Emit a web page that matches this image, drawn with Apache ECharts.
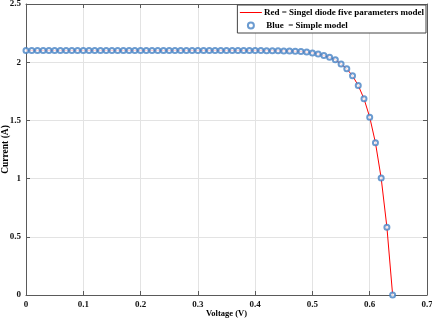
<!DOCTYPE html>
<html>
<head>
<meta charset="utf-8">
<script src="https://cdn.jsdelivr.net/npm/echarts@6/dist/echarts.min.js"></script>
<style>
  html, body { margin: 0; padding: 0; background: #fff; }
  #chart { width: 432px; height: 321px; }
</style>
</head>
<body>
<div id="chart"></div>
<script>
// voltage samples (V)
var voltage = [0, 0.01, 0.02, 0.03, 0.04, 0.05, 0.06, 0.07, 0.08, 0.09,
    0.10, 0.11, 0.12, 0.13, 0.14, 0.15, 0.16, 0.17, 0.18, 0.19,
    0.20, 0.21, 0.22, 0.23, 0.24, 0.25, 0.26, 0.27, 0.28, 0.29,
    0.30, 0.31, 0.32, 0.33, 0.34, 0.35, 0.36, 0.37, 0.38, 0.39,
    0.40, 0.41, 0.42, 0.43, 0.44, 0.45, 0.46, 0.47, 0.48, 0.49,
    0.50, 0.51, 0.52, 0.53, 0.54, 0.55, 0.56, 0.57, 0.58, 0.59,
    0.60, 0.61, 0.62, 0.63, 0.64]
// current, single diode five parameters model (A)
var currentFive = [2.1, 2.1, 2.1, 2.1, 2.1, 2.1, 2.1, 2.1, 2.1, 2.1,
    2.1, 2.1, 2.1, 2.1, 2.1, 2.1, 2.1, 2.1, 2.1, 2.1,
    2.1, 2.1, 2.1, 2.1, 2.1, 2.1, 2.1, 2.1, 2.1, 2.1,
    2.1, 2.1, 2.1, 2.1, 2.1, 2.1, 2.1, 2.1, 2.1, 2.1,
    2.1, 2.1, 2.099, 2.099, 2.098, 2.097, 2.096, 2.094, 2.091, 2.087,
    2.08, 2.071, 2.057, 2.042, 2.02, 1.985, 1.943, 1.883, 1.80, 1.686,
    1.528, 1.308, 1.005, 0.583, 0]
// current, simple model (A)
var currentSimple = currentFive.slice()

var legendNames = ['Red = Singel diode five parameters model', ' Blue  = Simple model']

var myChart = echarts.init(document.getElementById('chart'))
var font = 'Liberation Serif'
var axisColor = '#5a5a5a'
var blue = '#4682c4'

var redData = voltage.map(function (v, i) { return [v, currentFive[i]] })
var blueData = voltage.map(function (v, i) { return [v, currentSimple[i]] })

var tickStyle = { show: true, inside: true, length: 4, lineStyle: { color: axisColor } }
var labelStyle = { fontFamily: font, fontWeight: 'bold', fontSize: 9, color: '#111', margin: 5 }

var option = {
    animation: false,
    grid: { left: 26, right: 5, top: 4, bottom: 26, outerBoundsMode: 'none' },
    legend: {
        data: [
            { name: legendNames[0], itemStyle: { opacity: 0 }, lineStyle: { width: 1 } },
            { name: legendNames[1], itemStyle: { borderWidth: 1 } }
        ],
        orient: 'vertical',
        right: 6,
        top: 5,
        padding: [2, 2, 2, 2],
        itemWidth: 22,
        itemHeight: 6,
        itemGap: 2,
        borderColor: '#444',
        borderWidth: 1,
        backgroundColor: '#fff',
        textStyle: { fontFamily: font, fontWeight: 'bold', fontSize: 9, lineHeight: 11, color: '#000', padding: [0, 0, 0, -3] }
    },
    xAxis: [{
        type: 'value', min: 0, max: 0.7, interval: 0.1,
        name: 'Voltage (V)', nameLocation: 'middle', nameGap: 14,
        nameMoveOverlap: false,
        nameTextStyle: { fontFamily: font, fontWeight: 'bold', fontSize: 8.5, color: '#000' },
        axisLine: { show: true, lineStyle: { color: axisColor } },
        axisTick: tickStyle,
        axisLabel: labelStyle,
        splitLine: { show: true, lineStyle: { color: '#e3e3e3' } }
    }, {
        type: 'value', min: 0, max: 0.7, interval: 0.1, position: 'top',
        axisLine: { show: true, onZero: false, lineStyle: { color: axisColor } },
        axisTick: tickStyle, axisLabel: { show: false }, splitLine: { show: false }
    }],
    yAxis: [{
        type: 'value', min: 0, max: 2.5, interval: 0.5,
        name: 'Current (A)', nameLocation: 'middle', nameGap: 15, nameRotate: 90,
        nameMoveOverlap: false,
        nameTextStyle: { fontFamily: font, fontWeight: 'bold', fontSize: 9.5, color: '#000' },
        axisLine: { show: true, lineStyle: { color: axisColor } },
        axisTick: tickStyle,
        axisLabel: labelStyle,
        splitLine: { show: true, lineStyle: { color: '#e3e3e3' } }
    }, {
        type: 'value', min: 0, max: 2.5, interval: 0.5, position: 'right',
        axisLine: { show: true, onZero: false, lineStyle: { color: axisColor } },
        axisTick: tickStyle, axisLabel: { show: false }, splitLine: { show: false }
    }],
    series: [{
        name: legendNames[0],
        type: 'line',
        data: redData,
        symbol: 'none',
        lineStyle: { color: '#ff0000', width: 1 },
        itemStyle: { color: '#ff0000' },
        z: 2
    }, {
        name: legendNames[1],
        type: 'scatter',
        data: blueData,
        symbol: 'emptyCircle',
        symbolSize: 5,
        itemStyle: { color: blue, borderColor: blue, borderWidth: 1 },
        z: 3
    }]
}

myChart.setOption(option)
window.addEventListener('resize', myChart.resize)
</script>
</body>
</html>
